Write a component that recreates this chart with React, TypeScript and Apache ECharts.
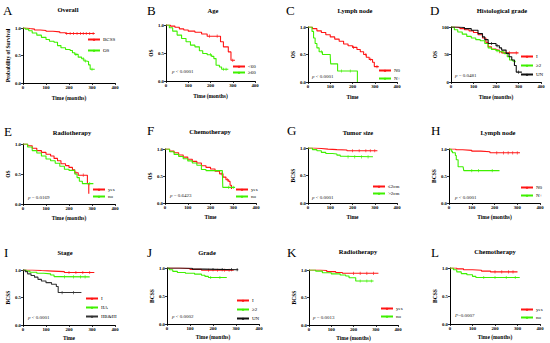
import React, { useEffect, useRef } from "react";
import * as echarts from "echarts";

type Pt = [number, number];

// ---------- data (time in months, survival probability) ----------
const A_BCSS: Pt[] = [[0,1],[15,0.99],[30,0.98],[50,0.965],[75,0.955],[100,0.94],[130,0.93],[160,0.915],[185,0.9],[312,0.9]];
const A_OS: Pt[] = [[0,1],[10,0.98],[25,0.95],[40,0.91],[60,0.87],[80,0.83],[100,0.79],[115,0.76],[135,0.74],[150,0.68],[165,0.64],[185,0.61],[205,0.59],[215,0.55],[225,0.52],[240,0.47],[255,0.44],[265,0.4],[275,0.39],[285,0.33],[292,0.25],[312,0.25]];

const B_LT60: Pt[] = [[0,1],[20,0.98],[40,0.96],[60,0.93],[80,0.91],[100,0.89],[130,0.87],[160,0.84],[185,0.8],[240,0.8],[245,0.7],[258,0.61],[280,0.52],[292,0.37],[310,0.37]];
const B_GE60: Pt[] = [[0,1],[15,0.95],[30,0.89],[50,0.82],[70,0.76],[90,0.7],[110,0.64],[130,0.61],[150,0.54],[165,0.49],[185,0.47],[205,0.44],[215,0.4],[225,0.28],[240,0.25],[250,0.21],[280,0.21]];

const C_N0: Pt[] = [[0,1],[20,0.97],[40,0.93],[60,0.9],[80,0.86],[100,0.82],[120,0.78],[140,0.74],[160,0.69],[180,0.66],[200,0.63],[220,0.59],[235,0.55],[250,0.5],[262,0.45],[275,0.41],[290,0.36],[298,0.28],[318,0.28]];
const C_NPOS: Pt[] = [[0,1],[18,0.92],[25,0.8],[32,0.7],[40,0.62],[50,0.55],[65,0.5],[100,0.46],[102,0.33],[133,0.2],[222,0]];

const D_I: Pt[] = [[0,100],[20,99],[40,97],[60,95],[80,93],[100,90],[120,86],[140,80],[155,72],[165,64],[180,60],[200,58],[215,55],[225,53],[300,53]];
const D_GE2: Pt[] = [[0,100],[15,95],[30,91],[50,87],[70,83],[90,80],[110,77],[130,75],[150,70],[165,62],[180,59],[200,57],[215,55],[235,52],[250,46],[260,40],[275,38],[285,36]];
const D_UN: Pt[] = [[0,100],[30,99],[60,97],[90,94],[120,88],[140,82],[150,77],[165,70],[200,66],[215,62],[225,58],[245,52],[258,46],[270,40],[282,30],[290,18],[315,18]];

const E_YES: Pt[] = [[0,1],[20,0.97],[40,0.93],[60,0.89],[80,0.86],[100,0.83],[120,0.8],[135,0.76],[150,0.72],[165,0.67],[185,0.64],[200,0.61],[215,0.57],[225,0.52],[240,0.48],[276,0.48],[280,0.34],[286,0.17]];
const E_NO: Pt[] = [[0,1],[20,0.95],[40,0.89],[60,0.85],[80,0.8],[100,0.75],[120,0.72],[140,0.68],[160,0.63],[180,0.58],[200,0.56],[215,0.56],[225,0.5],[235,0.44],[245,0.38],[258,0.34],[306,0.34]];

const F_YES: Pt[] = [[0,1],[20,0.96],[40,0.93],[60,0.89],[80,0.85],[100,0.81],[120,0.77],[140,0.74],[160,0.69],[180,0.66],[200,0.63],[220,0.59],[240,0.54],[255,0.48],[268,0.43],[280,0.4],[286,0.33],[292,0.26]];
const F_NO: Pt[] = [[0,1],[20,0.95],[40,0.9],[60,0.86],[80,0.82],[100,0.78],[120,0.74],[140,0.7],[160,0.62],[180,0.6],[252,0.6],[254,0.29],[308,0.29]];

const G_LE2: Pt[] = [[0,1],[30,0.99],[60,0.98],[90,0.97],[130,0.965],[175,0.95],[312,0.95]];
const G_GT2: Pt[] = [[0,1],[20,0.97],[40,0.95],[60,0.92],[80,0.9],[110,0.89],[130,0.87],[145,0.85],[155,0.84],[292,0.84]];

const H_N0: Pt[] = [[0,1],[30,0.985],[60,0.975],[100,0.96],[140,0.95],[180,0.93],[312,0.93]];
const H_NPOS: Pt[] = [[0,1],[10,0.96],[15,0.93],[28,0.88],[32,0.8],[40,0.67],[62,0.67],[65,0.6],[222,0.6]];

const I_I: Pt[] = [[0,1],[40,0.99],[80,0.98],[130,0.97],[180,0.955],[310,0.955]];
const I_IIA: Pt[] = [[0,1],[15,0.98],[30,0.96],[60,0.94],[90,0.93],[120,0.91],[135,0.88],[150,0.875],[290,0.875]];
const I_IIB: Pt[] = [[0,1],[10,0.97],[20,0.93],[35,0.9],[50,0.87],[65,0.83],[80,0.8],[100,0.77],[124,0.74],[145,0.7],[153,0.59],[254,0.59]];

const J_I: Pt[] = [[0,1],[50,0.99],[100,0.975],[150,0.96],[290,0.96]];
const J_GE2: Pt[] = [[0,1],[10,0.97],[25,0.94],[45,0.92],[80,0.905],[120,0.89],[150,0.87],[165,0.85],[180,0.83],[260,0.83]];
const J_UN: Pt[] = [[0,1],[60,0.995],[110,0.98],[160,0.97],[310,0.97]];

const K_YES: Pt[] = [[0,1],[50,0.99],[80,0.97],[120,0.955],[150,0.94],[312,0.94]];
const K_NO: Pt[] = [[0,1],[30,0.98],[60,0.95],[100,0.93],[140,0.91],[165,0.89],[180,0.86],[205,0.86],[210,0.8],[290,0.8]];

const L_YES: Pt[] = [[0,1],[30,0.985],[60,0.97],[100,0.96],[140,0.945],[180,0.93],[300,0.93]];
const L_NO: Pt[] = [[0,1],[15,0.97],[30,0.93],[50,0.9],[75,0.88],[100,0.85],[115,0.83],[310,0.83]];

// censored observation times (tick marks on the curves)
const A_BCSS_C = [190, 205, 220, 235, 250, 262, 275, 290, 305];
const A_OS_C = [230, 262, 272, 300];
const B_LT60_C = [195, 230, 300];
const B_GE60_C = [200, 258, 270];
const C_N0_C = [205, 260, 282, 310];
const C_NPOS_C = [60, 150, 190];
const D_I_C = [215, 240, 260, 290];
const D_GE2_C = [205, 230];
const D_UN_C = [180, 205, 300];
const E_YES_C = [230, 262];
const E_NO_C = [290];
const F_YES_C = [250, 275];
const F_NO_C = [280, 300];
const G_LE2_C = [200, 230, 260, 280, 300];
const G_GT2_C = [180, 210, 240, 270];
const H_N0_C = [210, 240, 260, 280, 300];
const H_NPOS_C = [100, 130, 190];
const I_I_C = [200, 230, 260, 290];
const I_IIA_C = [180, 220, 250, 270];
const I_IIB_C = [170, 220];
const J_I_C = [180, 220, 250, 270];
const J_GE2_C = [190, 230];
const J_UN_C = [200, 240, 280, 305];
const K_YES_C = [200, 230, 260, 290];
const K_NO_C = [230, 260, 280];
const L_YES_C = [200, 230, 260, 280];
const L_NO_C = [150, 200, 250, 290];

const X_TICK_INTERVAL = 100;
const X_MAX = 400;

// ---------- styling ----------
const RED = "#ff1414";
const GREEN = "#3ff000";
const BLACK = "#111111";
const GREY = "#333333";
const FONT = "'Liberation Serif', 'Times New Roman', serif";

type S = { name: string; data: Pt[]; cens: number[]; color: string };
type Panel = {
  letter: string; title: string; yName: string; xName: string; pct?: boolean;
  grid: [number, number, number, number];
  letterPos: [number, number]; titlePos: [number, number];
  yGap: number; xGap: number;
  legendPos: [number, number]; legendGap: number;
  p?: string; pPos?: [number, number];
  series: S[];
};

const PANELS: Panel[] = [
  { letter: "A", title: "Overall", yName: "Probability of Survival", xName: "Time (months)",
    grid: [23, 28, 92, 55], letterPos: [3, 4], titlePos: [68, 9], yGap: 12, xGap: 12,
    legendPos: [87, 37], legendGap: 5,
    series: [{ name: "BCSS", data: A_BCSS, cens: A_BCSS_C, color: RED }, { name: "OS", data: A_OS, cens: A_OS_C, color: GREEN }] },
  { letter: "B", title: "Age", yName: "OS", xName: "Time (months)",
    grid: [166, 25, 89, 56], letterPos: [147, 4], titlePos: [213, 10], yGap: 10, xGap: 12,
    legendPos: [232, 64], legendGap: 0, p: "{i|p} < 0.0001", pPos: [172, 71],
    series: [{ name: "<60", data: B_LT60, cens: B_LT60_C, color: RED }, { name: "≥60", data: B_GE60, cens: B_GE60_C, color: GREEN }] },
  { letter: "C", title: "Lymph node", yName: "OS", xName: "Time",
    grid: [308, 27, 89, 55], letterPos: [286, 4], titlePos: [355, 10], yGap: 9, xGap: 12,
    legendPos: [378, 68], legendGap: 2, p: "{i|p} < 0.0001", pPos: [312, 76],
    series: [{ name: "N0", data: C_N0, cens: C_N0_C, color: RED }, { name: "N+", data: C_NPOS, cens: C_NPOS_C, color: GREEN }] },
  { letter: "D", title: "Histological grade", yName: "OS", xName: "Time (months)", pct: true,
    grid: [451, 27, 90, 55], letterPos: [430, 4], titlePos: [502, 10], yGap: 11, xGap: 12,
    legendPos: [520, 54], legendGap: 3, p: "{i|p} = 0.0481", pPos: [455, 75],
    series: [{ name: "I", data: D_I, cens: D_I_C, color: RED }, { name: "≥2", data: D_GE2, cens: D_GE2_C, color: GREEN }, { name: "UN", data: D_UN, cens: D_UN_C, color: BLACK }] },
  { letter: "E", title: "Radiotherapy", yName: "OS", xName: "Time (months)",
    grid: [23, 144, 92, 60], letterPos: [4, 125], titlePos: [72, 132], yGap: 12, xGap: 11,
    legendPos: [92, 187], legendGap: 1, p: "{i|p} = 0.0169", pPos: [28, 197],
    series: [{ name: "yes", data: E_YES, cens: E_YES_C, color: RED }, { name: "no", data: E_NO, cens: E_NO_C, color: GREEN }] },
  { letter: "F", title: "Chemotherapy", yName: "OS", xName: "Time",
    grid: [165, 149, 91, 54], letterPos: [147, 124], titlePos: [210, 131], yGap: 10, xGap: 11,
    legendPos: [235, 187], legendGap: 1, p: "{i|p} = 0.6423", pPos: [170, 195],
    series: [{ name: "yes", data: F_YES, cens: F_YES_C, color: RED }, { name: "no", data: F_NO, cens: F_NO_C, color: GREEN }] },
  { letter: "G", title: "Tumor size", yName: "BCSS", xName: "Time",
    grid: [308, 148, 89, 55], letterPos: [287, 124], titlePos: [358, 132], yGap: 11, xGap: 11,
    legendPos: [372, 184], legendGap: 1, p: "{i|p} < 0.0001", pPos: [312, 197],
    series: [{ name: "≤2cm", data: G_LE2, cens: G_LE2_C, color: RED }, { name: ">2cm", data: G_GT2, cens: G_GT2_C, color: GREEN }] },
  { letter: "H", title: "Lymph node", yName: "BCSS", xName: "Time (months)",
    grid: [449, 149, 91, 54], letterPos: [431, 124], titlePos: [498, 132], yGap: 11, xGap: 11,
    legendPos: [520, 185], legendGap: 2, p: "{i|p} < 0.0001", pPos: [455, 197],
    series: [{ name: "N0", data: H_N0, cens: H_N0_C, color: RED }, { name: "N+", data: H_NPOS, cens: H_NPOS_C, color: GREEN }] },
  { letter: "I", title: "Stage", yName: "BCSS", xName: "Time",
    grid: [23, 270, 92, 55], letterPos: [4, 246], titlePos: [65, 252], yGap: 10, xGap: 10,
    legendPos: [85, 296], legendGap: 3, p: "{i|p} < 0.0001", pPos: [28, 317],
    series: [{ name: "I", data: I_I, cens: I_I_C, color: RED }, { name: "IIA", data: I_IIA, cens: I_IIA_C, color: GREEN }, { name: "IIB&III", data: I_IIB, cens: I_IIB_C, color: GREY }] },
  { letter: "J", title: "Grade", yName: "BCSS", xName: "Time (months)",
    grid: [167, 268, 92, 56], letterPos: [147, 246], titlePos: [207, 252], yGap: 10, xGap: 10,
    legendPos: [236, 298], legendGap: 3, p: "{i|p} < 0.0002", pPos: [172, 316],
    series: [{ name: "I", data: J_I, cens: J_I_C, color: RED }, { name: "≥2", data: J_GE2, cens: J_GE2_C, color: GREEN }, { name: "UN", data: J_UN, cens: J_UN_C, color: BLACK }] },
  { letter: "K", title: "Radiotherapy", yName: "BCSS", xName: "Time (months)",
    grid: [309, 270, 89, 55], letterPos: [287, 246], titlePos: [358, 251], yGap: 11, xGap: 10,
    legendPos: [380, 306], legendGap: 2, p: "{i|p} = 0.0013", pPos: [313, 317],
    series: [{ name: "yes", data: K_YES, cens: K_YES_C, color: RED }, { name: "no", data: K_NO, cens: K_NO_C, color: GREEN }] },
  { letter: "L", title: "Chemotherapy", yName: "BCSS", xName: "Time (months)",
    grid: [450, 268, 90, 56], letterPos: [431, 246], titlePos: [495, 251], yGap: 11, xGap: 10,
    legendPos: [520, 307], legendGap: 2, p: "{i|P}=0.0007", pPos: [455, 315],
    series: [{ name: "yes", data: L_YES, cens: L_YES_C, color: RED }, { name: "no", data: L_NO, cens: L_NO_C, color: GREEN }] },
];

// value of a step curve at time t (for placing censor ticks on the curve)
function curveAt(data: Pt[], t: number): number {
  let v = data[0][1];
  for (const [x, y] of data) {
    if (x <= t) v = y;
    else break;
  }
  return v;
}

function buildOption() {
  const grid: any[] = [];
  const xAxis: any[] = [];
  const yAxis: any[] = [];
  const series: any[] = [];
  const legend: any[] = [];
  const graphic: any[] = [];

  PANELS.forEach((p, i) => {
    const [l, t, w, h] = p.grid;
    grid.push({ left: l, top: t, width: w, height: h, containLabel: false });
    const axisCommon = {
      gridIndex: i,
      axisLine: { show: true, lineStyle: { color: "#000", width: 1 } },
      axisTick: { show: true, length: 2, lineStyle: { color: "#000", width: 0.8 } },
      splitLine: { show: false },
      nameLocation: "middle",
      nameTextStyle: { fontFamily: FONT, fontSize: 5.5, fontWeight: "bold", color: "#000" },
    };
    xAxis.push({
      ...axisCommon, type: "value", min: 0, max: X_MAX, interval: X_TICK_INTERVAL,
      name: p.xName, nameGap: p.xGap,
      axisLabel: { fontFamily: FONT, fontSize: 4.8, fontWeight: "bold", color: "#000", margin: 2 },
    });
    yAxis.push({
      ...axisCommon, type: "value", min: 0, max: p.pct ? 100 : 1, interval: p.pct ? 50 : 0.5,
      name: p.yName, nameGap: p.yGap,
      axisLabel: {
        fontFamily: FONT, fontSize: 4.8, fontWeight: "bold", color: "#000", margin: 2,
        formatter: (v: number) => (p.pct ? String(v) : v.toFixed(1)),
      },
    });
    p.series.forEach((s) => {
      series.push({
        type: "line", name: s.name, xAxisIndex: i, yAxisIndex: i, step: "end",
        data: s.data, symbol: "triangle", symbolSize: 3, showSymbol: false,
        lineStyle: { color: s.color, width: 1.1 }, itemStyle: { color: s.color },
        silent: true,
      });
      series.push({
        type: "scatter", name: "censored", xAxisIndex: i, yAxisIndex: i,
        data: s.cens.map((c) => [c, curveAt(s.data, c)]),
        symbol: "rect", symbolSize: [0.8, 3.2],
        itemStyle: { color: s.color }, silent: true,
      });
    });
    legend.push({
      left: p.legendPos[0], top: p.legendPos[1], orient: "vertical",
      itemWidth: 12, itemHeight: 3, itemGap: p.legendGap + 1, padding: 0,
      textStyle: { fontFamily: FONT, fontSize: 5, color: "#000", padding: [0, 0, 0, -2] },
      data: p.series.map((s) => s.name),
    });
    graphic.push({
      type: "text", x: p.letterPos[0], y: p.letterPos[1],
      style: { text: p.letter, fontFamily: FONT, fontSize: 13, fill: "#000" },
    });
    graphic.push({
      type: "text", x: p.titlePos[0], y: p.titlePos[1],
      style: { text: p.title, fontFamily: FONT, fontSize: 6.5, fontWeight: "bold", fill: "#000", align: "center", verticalAlign: "middle" },
    });
    if (p.p && p.pPos) {
      graphic.push({
        type: "text", x: p.pPos[0], y: p.pPos[1],
        style: {
          text: p.p, fontFamily: FONT, fontSize: 5, fill: "#222", verticalAlign: "middle",
          rich: { i: { fontFamily: FONT, fontSize: 5, fontStyle: "italic", fill: "#222" } },
        },
      });
    }
  });

  return { animation: false, backgroundColor: "#fff", grid, xAxis, yAxis, series, legend, graphic };
}

export default function App() {
  const ref = useRef<HTMLDivElement>(null);
  useEffect(() => {
    if (!ref.current) return;
    const chart = echarts.init(ref.current, undefined, { renderer: "svg" });
    chart.setOption(buildOption() as any);
    return () => chart.dispose();
  }, []);
  return <div ref={ref} style={{ position: "absolute", left: 0, top: 0, width: 550, height: 343, background: "#fff" }} />;
}
